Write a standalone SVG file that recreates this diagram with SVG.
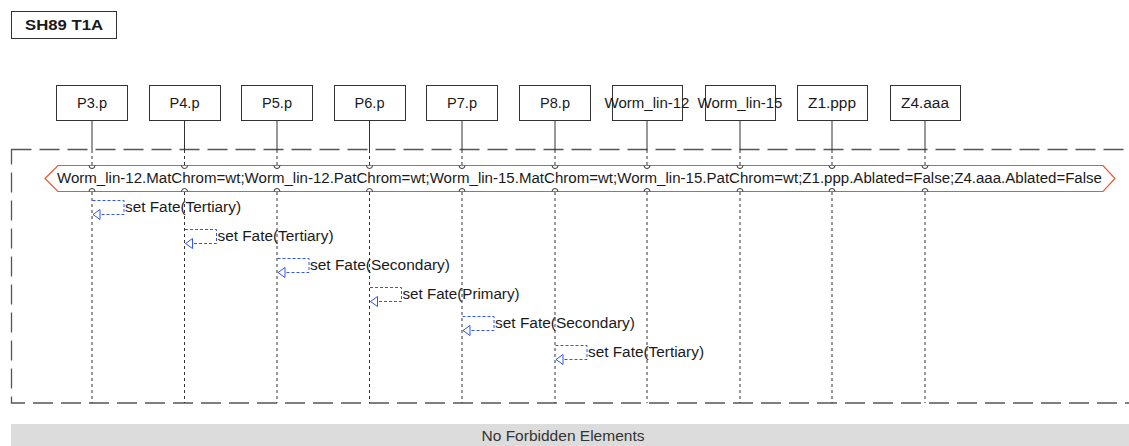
<svg xmlns="http://www.w3.org/2000/svg" width="1129" height="446" viewBox="0 0 1129 446">
<defs>
<style>
text{font-family:"Liberation Sans",Arial,sans-serif;font-size:14px;fill:#1a1a1a}
.box{fill:#fff;stroke:#333;stroke-width:1}
.life{stroke:#333;stroke-width:1}
.dot{stroke:#333;stroke-width:1;stroke-dasharray:3 3}
.frame{fill:none;stroke:#555;stroke-width:1.3;stroke-dasharray:20 8}
.msg{fill:none;stroke:#3355ee;stroke-width:1;stroke-dasharray:3 2}
.arc{fill:none;stroke:#333;stroke-width:1}
.lbl{text-anchor:middle}
</style>
<marker id="open" markerWidth="10" markerHeight="12" refX="8" refY="6" orient="auto" markerUnits="userSpaceOnUse">
<path d="M1,1 L8,6 L1,11 Z" fill="#fff" stroke="#3355ee" stroke-width="1"/>
</marker>
</defs>

<g id="title">
<rect class="box" x="11.5" y="11.5" width="105" height="27"/>
<text x="64" y="30" class="lbl" style="font-weight:bold" textLength="78" lengthAdjust="spacingAndGlyphs">SH89 T1A</text>
</g>

<rect id="frame" class="frame" x="11.5" y="149.5" width="1140" height="253.5"/>

<g id="connectors">
<g id="lifelines">
<path class="life" d="M92,120V150M184.5,120V150M277,120V150M369.5,120V150M462,120V150M555,120V150M647,120V150M740,120V150M832,120V150M925,120V150"/>
<path class="dot" d="M92,150V165M184.5,150V165M277,150V165M369.5,150V165M462,150V165M555,150V165M647,150V165M740,150V165M832,150V165M925,150V165"/>
<path class="dot" d="M92,192V403M184.5,192V403M277,192V403M369.5,192V403M462,192V403M555,192V403M647,192V403M740,192V403M832,192V403M925,192V403"/>
</g>
<g id="hexagon">
<path d="M45,178.5 L58,165.5 H1103 L1115,178.5 L1103,191.5 H58 Z" fill="#fff" stroke="#ee5533" stroke-width="1.2"/>
<path class="arc" d="M89,165.5a3,3 0 0 0 6,0M181.5,165.5a3,3 0 0 0 6,0M274,165.5a3,3 0 0 0 6,0M366.5,165.5a3,3 0 0 0 6,0M459,165.5a3,3 0 0 0 6,0M552,165.5a3,3 0 0 0 6,0M644,165.5a3,3 0 0 0 6,0M737,165.5a3,3 0 0 0 6,0M829,165.5a3,3 0 0 0 6,0M922,165.5a3,3 0 0 0 6,0"/>
<path class="arc" d="M89,191.5a3,3 0 0 1 6,0M181.5,191.5a3,3 0 0 1 6,0M274,191.5a3,3 0 0 1 6,0M366.5,191.5a3,3 0 0 1 6,0M459,191.5a3,3 0 0 1 6,0M552,191.5a3,3 0 0 1 6,0M644,191.5a3,3 0 0 1 6,0M737,191.5a3,3 0 0 1 6,0M829,191.5a3,3 0 0 1 6,0M922,191.5a3,3 0 0 1 6,0"/>
<text x="57" y="183" textLength="1045" lengthAdjust="spacingAndGlyphs">Worm_lin-12.MatChrom=wt;Worm_lin-12.PatChrom=wt;Worm_lin-15.MatChrom=wt;Worm_lin-15.PatChrom=wt;Z1.ppp.Ablated=False;Z4.aaa.Ablated=False</text>
</g>
<g id="messages">
<path class="msg" marker-end="url(#open)" d="M92.5,200.5H124V214.5H93"/>
<text x="125" y="212" textLength="116" lengthAdjust="spacingAndGlyphs">set Fate(Tertiary)</text>
<path class="msg" marker-end="url(#open)" d="M185,229.5H216.5V243.5H185.5"/>
<text x="217.5" y="241" textLength="116" lengthAdjust="spacingAndGlyphs">set Fate(Tertiary)</text>
<path class="msg" marker-end="url(#open)" d="M277.5,258.5H309V272.5H278"/>
<text x="310" y="270" textLength="140" lengthAdjust="spacingAndGlyphs">set Fate(Secondary)</text>
<path class="msg" marker-end="url(#open)" d="M370,287.5H401.5V301.5H370.5"/>
<text x="402.5" y="299" textLength="117" lengthAdjust="spacingAndGlyphs">set Fate(Primary)</text>
<path class="msg" marker-end="url(#open)" d="M462.5,316.5H494V330.5H463"/>
<text x="495" y="328" textLength="140" lengthAdjust="spacingAndGlyphs">set Fate(Secondary)</text>
<path class="msg" marker-end="url(#open)" d="M555.5,345.5H587V359.5H556"/>
<text x="588" y="357" textLength="116" lengthAdjust="spacingAndGlyphs">set Fate(Tertiary)</text>
</g>
</g>

<g id="P3.p"><rect class="box" x="56.5" y="85.5" width="71" height="35"/><text class="lbl" x="92" y="108" textLength="30" lengthAdjust="spacingAndGlyphs">P3.p</text></g>
<g id="P4.p"><rect class="box" x="149.5" y="85.5" width="71" height="35"/><text class="lbl" x="184.5" y="108" textLength="30" lengthAdjust="spacingAndGlyphs">P4.p</text></g>
<g id="P5.p"><rect class="box" x="241.5" y="85.5" width="71" height="35"/><text class="lbl" x="277" y="108" textLength="30" lengthAdjust="spacingAndGlyphs">P5.p</text></g>
<g id="P6.p"><rect class="box" x="334.5" y="85.5" width="71" height="35"/><text class="lbl" x="369.5" y="108" textLength="30" lengthAdjust="spacingAndGlyphs">P6.p</text></g>
<g id="P7.p"><rect class="box" x="426.5" y="85.5" width="71" height="35"/><text class="lbl" x="462" y="108" textLength="30" lengthAdjust="spacingAndGlyphs">P7.p</text></g>
<g id="P8.p"><rect class="box" x="519.5" y="85.5" width="71" height="35"/><text class="lbl" x="555" y="108" textLength="30" lengthAdjust="spacingAndGlyphs">P8.p</text></g>
<g id="Worm_lin-12"><rect class="box" x="612.5" y="85.5" width="70" height="35"/><text class="lbl" x="647" y="108" textLength="85" lengthAdjust="spacingAndGlyphs">Worm_lin-12</text></g>
<g id="Worm_lin-15"><rect class="box" x="705.5" y="85.5" width="70" height="35"/><text class="lbl" x="740" y="108" textLength="85" lengthAdjust="spacingAndGlyphs">Worm_lin-15</text></g>
<g id="Z1.ppp"><rect class="box" x="797.5" y="85.5" width="70" height="35"/><text class="lbl" x="832" y="108" textLength="48" lengthAdjust="spacingAndGlyphs">Z1.ppp</text></g>
<g id="Z4.aaa"><rect class="box" x="890.5" y="85.5" width="70" height="35"/><text class="lbl" x="925" y="108" textLength="48" lengthAdjust="spacingAndGlyphs">Z4.aaa</text></g>

<g id="status">
<rect x="11" y="424" width="1118" height="22" fill="#dcdcdc"/>
<text class="lbl" x="563" y="441" style="fill:#333" textLength="163" lengthAdjust="spacingAndGlyphs">No Forbidden Elements</text>
</g>
</svg>
